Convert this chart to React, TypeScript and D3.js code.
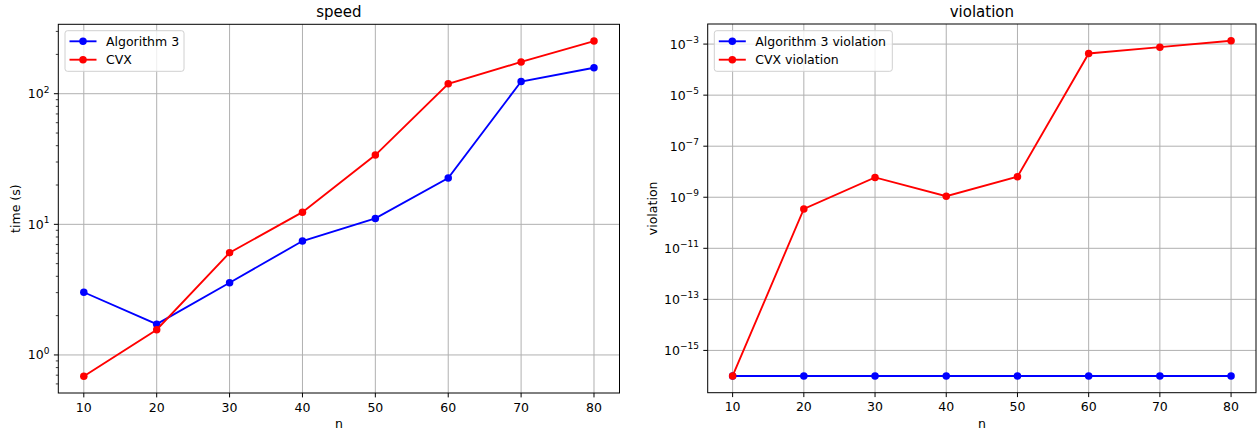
import React from "react";
import * as d3 from "d3";

const nValues = [10, 20, 30, 40, 50, 60, 70, 80];
const xTicks = [10, 20, 30, 40, 50, 60, 70, 80];
const algTime = [3.02, 1.72, 3.57, 7.45, 11.1, 22.6, 124, 158];
const cvxTime = [0.687, 1.56, 6.06, 12.4, 33.9, 119, 175, 253];
const algViolation = [1e-16, 1e-16, 1e-16, 1e-16, 1e-16, 1e-16, 1e-16, 1e-16];
const cvxViolation = [1e-16, 3.5e-10, 6e-9, 1.1e-9, 6.4e-9, 4.3e-4, 7.6e-4, 1.35e-3];
const speedTickExps = [0, 1, 2];
const violationTickExps = [-15, -13, -11, -9, -7, -5, -3];
const speedLegend = ["Algorithm 3", "CVX"];
const violationLegend = ["Algorithm 3 violation", "CVX violation"];

const FONT = "DejaVu Sans, sans-serif";
const TICK_FS = 12.5;
const BLUE = "#0000ff";
const RED = "#ff0000";

type PanelProps = {
  left: number;
  right: number;
  top: number;
  bottom: number;
  title: string;
  ylabel: string;
  ylabelX: number;
  series: { values: number[]; color: string; label: string }[];
  tickExps: number[];
  minor: boolean;
  legendBox: { x: number; w: number };
};

function logDomain(vals: number[]): [number, number] {
  const lo = Math.log10(d3.min(vals) as number);
  const hi = Math.log10(d3.max(vals) as number);
  const m = (hi - lo) * 0.05;
  return [Math.pow(10, lo - m), Math.pow(10, hi + m)];
}

function fmtExp(e: number) {
  return e < 0 ? "\u2212" + Math.abs(e) : String(e);
}

function Panel(p: PanelProps) {
  const x = d3.scaleLinear().domain([6.5, 83.5]).range([p.left, p.right]);
  const all = p.series.flatMap((s) => s.values);
  const y = d3.scaleLog().domain(logDomain(all)).range([p.bottom, p.top]);
  const [d0, d1] = y.domain();
  const line = d3
    .line<number>()
    .x((_, i) => x(nValues[i]))
    .y((v) => y(v));

  const minorTicks: number[] = [];
  if (p.minor) {
    for (let e = Math.floor(Math.log10(d0)); e <= Math.ceil(Math.log10(d1)); e++) {
      for (let k = 2; k <= 9; k++) {
        const v = k * Math.pow(10, e);
        if (v >= d0 && v <= d1) minorTicks.push(v);
      }
    }
  }
  const cx = (p.left + p.right) / 2;
  const cy = (p.top + p.bottom) / 2;
  const lb = p.legendBox;

  return (
    <g>
      {/* grid */}
      {xTicks.map((t) => (
        <line key={"gx" + t} x1={x(t)} x2={x(t)} y1={p.top} y2={p.bottom} stroke="#b0b0b0" strokeWidth={1} />
      ))}
      {p.tickExps.map((e) => (
        <line key={"gy" + e} x1={p.left} x2={p.right} y1={y(Math.pow(10, e))} y2={y(Math.pow(10, e))} stroke="#b0b0b0" strokeWidth={1} />
      ))}
      {/* series */}
      {p.series.map((s) => (
        <g key={s.label}>
          <path d={line(s.values) || ""} fill="none" stroke={s.color} strokeWidth={1.875} />
          {s.values.map((v, i) => (
            <circle key={i} cx={x(nValues[i])} cy={y(v)} r={3.75} fill={s.color} />
          ))}
        </g>
      ))}
      {/* spines */}
      <rect x={p.left} y={p.top} width={p.right - p.left} height={p.bottom - p.top} fill="none" stroke="#000" strokeWidth={1} />
      {/* x ticks */}
      {xTicks.map((t) => (
        <g key={"xt" + t}>
          <line x1={x(t)} x2={x(t)} y1={p.bottom} y2={p.bottom + 4.4} stroke="#000" strokeWidth={1} />
          <text x={x(t)} y={p.bottom + 18.7} textAnchor="middle" fontSize={TICK_FS} fontFamily={FONT} fill="#000">
            {t}
          </text>
        </g>
      ))}
      {/* y ticks */}
      {p.tickExps.map((e) => {
        const yy = y(Math.pow(10, e));
        return (
          <g key={"yt" + e}>
            <line x1={p.left - 4.4} x2={p.left} y1={yy} y2={yy} stroke="#000" strokeWidth={1} />
            <text x={p.left - 8.8} y={yy + 4.5} textAnchor="end" fontSize={TICK_FS} fontFamily={FONT} fill="#000">
              10
              <tspan fontSize={TICK_FS * 0.72} dy={-5.5}>
                {fmtExp(e)}
              </tspan>
            </text>
          </g>
        );
      })}
      {minorTicks.map((v) => (
        <line key={"mt" + v} x1={p.left - 2.5} x2={p.left} y1={y(v)} y2={y(v)} stroke="#000" strokeWidth={0.75} />
      ))}
      {/* labels */}
      <text x={cx} y={16.5} textAnchor="middle" fontSize={15} fontFamily={FONT} fill="#000">
        {p.title}
      </text>
      <text x={cx} y={428.3} textAnchor="middle" fontSize={TICK_FS} fontFamily={FONT} fill="#000">
        n
      </text>
      <text
        transform={`translate(${p.ylabelX},${cy}) rotate(-90)`}
        textAnchor="middle"
        dy={4.5}
        fontSize={TICK_FS}
        fontFamily={FONT}
        fill="#000"
      >
        {p.ylabel}
      </text>
      {/* legend */}
      <rect x={lb.x} y={30.7} width={lb.w} height={40.6} rx={2.5} fill="#fff" fillOpacity={0.8} stroke="#d0d0d0" strokeWidth={1} />
      {p.series.map((s, i) => {
        const ry = 41.3 + i * 18.4;
        return (
          <g key={"lg" + i}>
            <line x1={lb.x + 4.5} x2={lb.x + 31.5} y1={ry} y2={ry} stroke={s.color} strokeWidth={1.875} />
            <circle cx={lb.x + 18} cy={ry} r={3.75} fill={s.color} />
            <text x={lb.x + 41} y={ry + 4.5} fontSize={TICK_FS} fontFamily={FONT} fill="#000">
              {s.label}
            </text>
          </g>
        );
      })}
    </g>
  );
}

export default function App() {
  return (
    <svg
      width={1257}
      height={430}
      style={{ position: "absolute", left: 0, top: 0, background: "#fff" }}
    >
      <rect x={0} y={0} width={1257} height={430} fill="#fff" />
      <Panel
        left={58.3}
        right={619.5}
        top={24.3}
        bottom={393}
        title="speed"
        ylabel="time (s)"
        ylabelX={15}
        series={[
          { values: algTime, color: BLUE, label: speedLegend[0] },
          { values: cvxTime, color: RED, label: speedLegend[1] },
        ]}
        tickExps={speedTickExps}
        minor={true}
        legendBox={{ x: 65, w: 119 }}
      />
      <Panel
        left={707.7}
        right={1256}
        top={24}
        bottom={392.7}
        title="violation"
        ylabel="violation"
        ylabelX={652}
        series={[
          { values: algViolation, color: BLUE, label: violationLegend[0] },
          { values: cvxViolation, color: RED, label: violationLegend[1] },
        ]}
        tickExps={violationTickExps}
        minor={false}
        legendBox={{ x: 714.3, w: 178 }}
      />
    </svg>
  );
}
